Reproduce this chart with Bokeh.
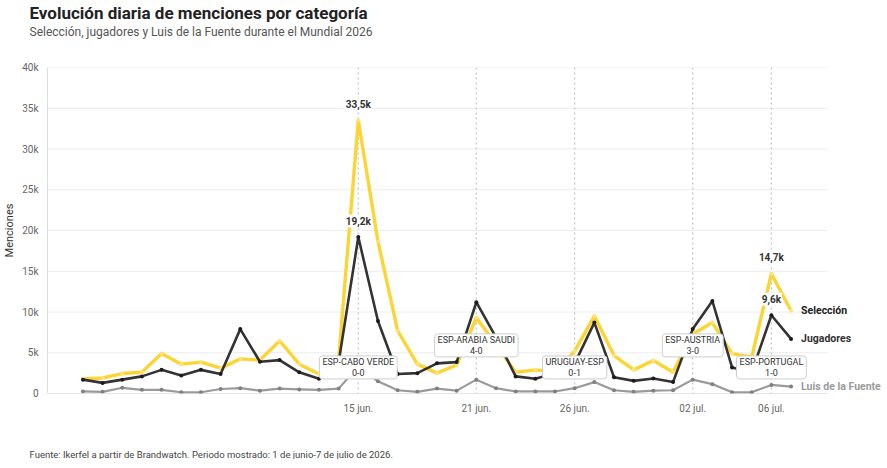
import pandas as pd
from bokeh.plotting import figure
from bokeh.models import Range1d, Span, Label, Title, NumeralTickFormatter, FixedTicker
from bokeh.embed import file_html
from bokeh.resources import INLINE

# datos diarios (menciones), 1 jun - 7 jul 2026
fechas = pd.date_range("2026-06-01", "2026-07-07", freq="D")

seleccion = [1800, 1900, 2450, 2600, 4900, 3600, 3850, 3100, 4250, 4100,
             6450, 3600, 2400, 4200, 33500, 18650, 7700, 3600, 2500, 3500,
             9300, 6000, 2600, 2900, 2700, 5200, 9500, 4650, 2900, 4050,
             2600, 7300, 8700, 4900, 4450, 14700, 10150]
jugadores = [1700, 1300, 1700, 2100, 2900, 2200, 2900, 2400, 7900, 3900,
             4100, 2600, 1800, 3800, 19200, 8900, 2400, 2500, 3700, 3850,
             11200, 6900, 2100, 1800, 2500, 3700, 8700, 2000, 1550, 1850,
             1400, 7900, 11350, 3200, 2600, 9600, 6700]
luis = [250, 200, 700, 450, 450, 150, 150, 550, 650, 350,
        600, 500, 450, 600, 3300, 1500, 400, 200, 600, 350,
        1700, 650, 250, 250, 250, 650, 1400, 400, 200, 350,
        400, 1700, 1150, 150, 150, 1050, 850]

nombres = ["Selección", "Jugadores", "Luis de la Fuente"]

partidos_fecha = ["2026-06-15", "2026-06-21", "2026-06-26", "2026-07-02", "2026-07-06"]
partidos_texto = ["ESP-CABO VERDE\n0-0", "ESP-ARABIA SAUDI\n4-0", "URUGUAY-ESP\n0-1",
                  "ESP-AUSTRIA\n3-0", "ESP-PORTUGAL\n1-0"]
picos_fecha = ["2026-06-15", "2026-07-06"]

meses = {6: "jun.", 7: "jul."}
y_ticks = [0, 5000, 10000, 15000, 20000, 25000, 30000, 35000, 40000]

FONT = "Roboto"
x = list(range(len(fechas)))
pos = {f.strftime("%Y-%m-%d"): i for i, f in enumerate(fechas)}

# el marco llega hasta el borde derecho para que quepan los nombres de serie;
# la rejilla se corta donde termina el eje x
x0, x1 = -1.8, 37.85
p = figure(frame_width=837, frame_height=326, output_backend="svg",
           toolbar_location=None, x_range=Range1d(x0, 40.75),
           y_range=Range1d(0, 40000), min_border_left=40, min_border_right=0,
           min_border_top=0, min_border_bottom=0)
p.outline_line_color = None
p.xgrid.grid_line_color = None
p.ygrid.grid_line_color = None

p.segment(x0=[x0] * (len(y_ticks) - 1), y0=y_ticks[1:], x1=[x1] * (len(y_ticks) - 1),
          y1=y_ticks[1:], line_color="#ececec", line_width=1, level="underlay")
p.segment(x0=[x0], y0=[0], x1=[x1], y1=[0], line_color="#cccccc", line_width=1,
          level="underlay")

# ejes
p.yaxis.ticker = FixedTicker(ticks=y_ticks)
p.yaxis.formatter = NumeralTickFormatter(format="0a")
p.yaxis.axis_label = "Menciones"
p.yaxis.axis_label_text_font = FONT
p.yaxis.axis_label_text_font_style = "normal"
p.yaxis.axis_label_text_font_size = "11px"
p.yaxis.axis_label_text_color = "#333333"
p.yaxis.axis_label_standoff = 3
p.yaxis.axis_line_color = "#dddddd"

tick_idx = [pos[f] for f in partidos_fecha]
p.xaxis.ticker = FixedTicker(ticks=tick_idx)
p.xaxis.major_label_overrides = {
    i: f"{fechas[i].day:02d} {meses[fechas[i].month]}" for i in tick_idx
}
p.xaxis.axis_line_color = None

for ax in (p.xaxis, p.yaxis):
    ax.major_tick_line_color = None
    ax.minor_tick_line_color = None
    ax.major_label_text_font = FONT
    ax.major_label_text_font_size = "10px"
    ax.major_label_text_color = "#666666"
    ax.major_label_standoff = 3

# lineas verticales de partido
for f in partidos_fecha:
    p.add_layout(Span(location=pos[f], dimension="height", line_color="#c4c4c4",
                      line_width=1.2, line_dash="2 3", level="underlay"))

# series
estilos = [
    (luis, "#9a9a9a", "#808080", 2.2),
    (seleccion, "#fcd535", "#ffe37a", 3.4),
    (jugadores, "#333333", "#1c1c1c", 2.6),
]
for vals, col, pcol, lw in estilos:
    p.line(x, vals, line_color=col, line_width=lw, line_join="round")
    p.scatter(x, vals, size=4, fill_color=pcol, line_color=None)

# etiquetas de valor en picos
for f in picos_fecha:
    i = pos[f]
    for vals in (seleccion, jugadores):
        txt = f"{vals[i] / 1000:.1f}k".replace(".", ",")
        p.add_layout(Label(x=i, y=vals[i], text=txt, y_offset=16,
                           text_align="center", text_baseline="middle",
                           text_font=FONT, text_font_size="10px",
                           text_font_style="bold", text_color="#333333",
                           background_fill_color="white", padding=1))

# cajas de partido
for k, (f, t) in enumerate(zip(partidos_fecha, partidos_texto)):
    nivel = 3200 if k % 2 == 0 else 5900
    p.add_layout(Label(x=pos[f], y=nivel, text=t, text_align="center",
                       text_baseline="middle", text_font=FONT,
                       text_font_size="9px", text_color="#333333",
                       text_line_height=1.1,
                       background_fill_color="white", border_line_color="#cfcfcf",
                       border_line_width=1, padding=(3, 1), border_radius=3))

# nombres al final de cada linea
ultimo = len(x) - 1
for nombre, vals, col in zip(nombres, (seleccion, jugadores, luis),
                             ("#222222", "#333333", "#9a9a9a")):
    p.add_layout(Label(x=ultimo, y=vals[ultimo], text=nombre, x_offset=10,
                       text_align="left", text_baseline="middle",
                       text_font=FONT, text_font_size="10.5px",
                       text_font_style="bold", text_color=col))

# titulos (el primero, vacio, solo separa el subtitulo del marco)
p.add_layout(Title(text=" ", text_font_size="10px", standoff=16), "above")
p.add_layout(Title(text="Selección, jugadores y Luis de la Fuente durante el Mundial 2026",
                   text_font=FONT, text_font_size="12px", text_font_style="normal",
                   text_color="#555555", align="left", offset=-18, standoff=0), "above")
p.add_layout(Title(text="Evolución diaria de menciones por categoría",
                   text_font=FONT, text_font_size="17px", text_font_style="bold",
                   text_color="#222222", align="left", offset=-18, standoff=0), "above")

# fuente al pie
p.add_layout(Title(text=" ", text_font_size="10px", standoff=17), "below")
p.add_layout(Title(text="Fuente: Ikerfel a partir de Brandwatch. Periodo mostrado: 1 de junio-7 de julio de 2026.",
                   text_font=FONT, text_font_size="9.5px", text_font_style="normal",
                   text_color="#444444", align="left", offset=-18, standoff=0), "below")

open("out.html", "w").write(file_html(p, INLINE))
